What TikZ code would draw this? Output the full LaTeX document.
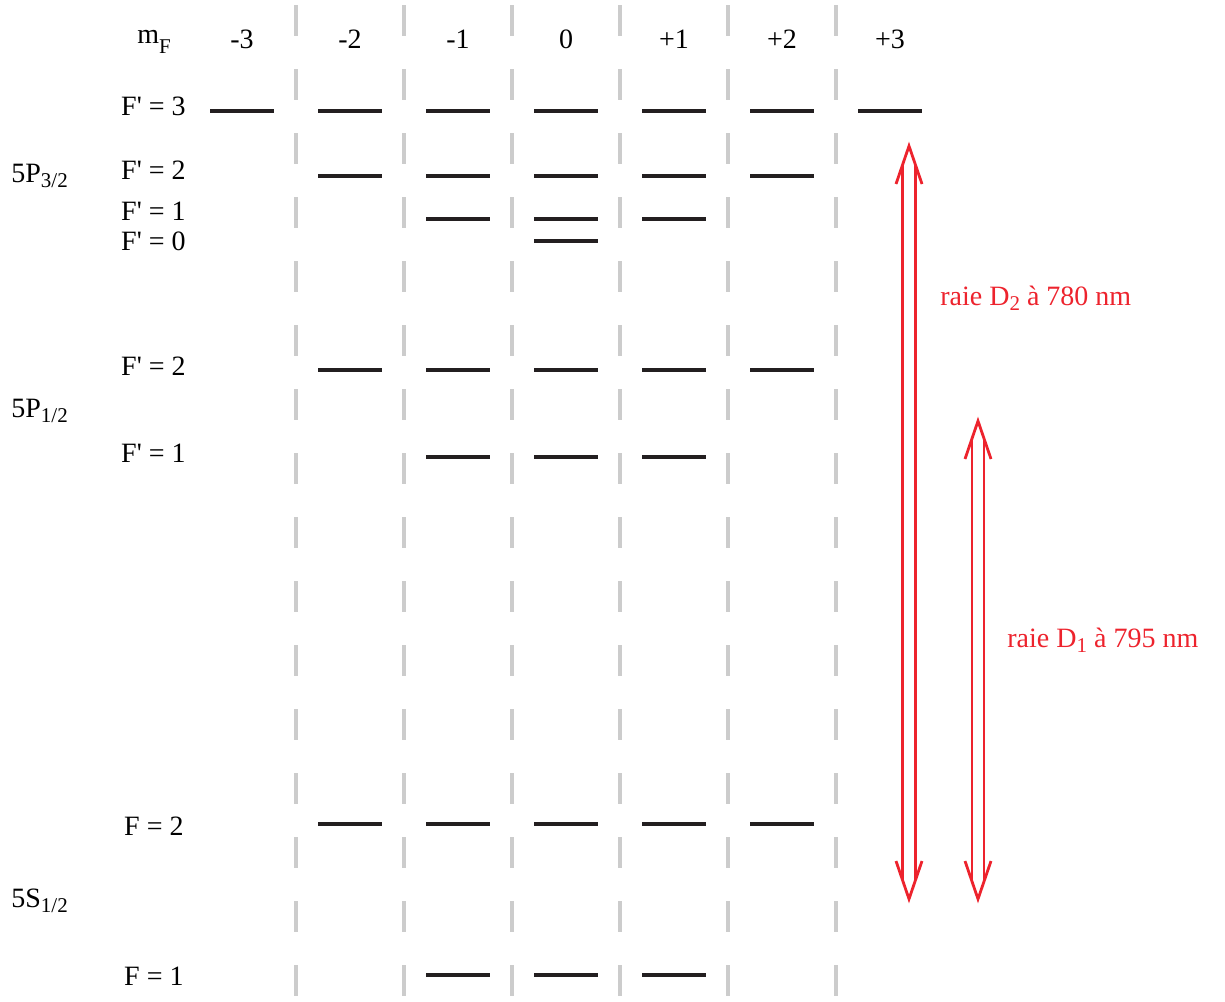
\documentclass[tikz,border=0pt]{standalone}
\usepackage{fontspec}
\setmainfont{Liberation Serif}
\usepackage{tikz}
\usetikzlibrary{calc}
\definecolor{raiered}{RGB}{237, 35, 45}
\definecolor{guidegray}{RGB}{204, 204, 204}
\definecolor{levelblack}{RGB}{35, 31, 32}
\tikzset{level/.style = {levelblack, line width = 1.6pt}}
\tikzset{guide/.style = {guidegray, line width = 1.6pt,
                         dash pattern = on 15.5pt off 16.5pt}}
\tikzset{lab/.style = {inner sep = 0, font = \fontsize{14}{16}\selectfont}}
\tikzset{raie/.style = {raiered, line width = 1.4pt, line join = miter}}
\newcommand{\sub}[2][2.5pt]{\raisebox{-#1}{\fontsize{10.5}{10.5}\selectfont #2}}
\newcommand{\Fp}{F\textquotesingle{} = }
% double arrow between two coordinates, #3 = half gap
\newcommand{\raiearrow}[3]{%
  \draw [raie] ([shift={(-#3, 19)}]#1) -- ([shift={(-#3, -19)}]#2);
  \draw [raie] ([shift={(#3, 19)}]#1) -- ([shift={(#3, -19)}]#2);
  \draw [raie] ([shift={(-13, 38)}]#1) -- (#1) -- ([shift={(13, 38)}]#1);
  \draw [raie] ([shift={(-13, -38)}]#2) -- (#2) -- ([shift={(13, -38)}]#2);
}

\begin{document}
\begin{tikzpicture}[x = 0.5pt, y = -0.5pt]
    \useasboundingbox (0, 0) rectangle (1225, 1001);
    \foreach \i in {0, ..., 5} {
      \draw [guide] ({296 + 108*\i}, 5) -- ({296 + 108*\i}, 997);
    }

    \node [lab, anchor = base west] (mf) at (137, 43) {m\sub[5pt]{F}};
    \foreach \m/\t in {-3/-3, -2/-2, -1/-1, 0/0, 1/+1, 2/+2, 3/+3} {
      \node [lab, anchor = base] (mf\m) at ({566 + 108*\m}, 48) {\t};
    }

    \foreach \y/\lo/\hi in {111/-3/3, 176/-2/2, 219/-1/1, 241/0/0,
                            370/-2/2, 457/-1/1, 824/-2/2, 975/-1/1} {
      \foreach \m in {\lo, ..., \hi} {
        \draw [level] ({534 + 108*\m}, \y) -- ++(64, 0);
      }
    }

    \node [lab, anchor = base east] (p3f3) at (186, 115) {\Fp 3};
    \node [lab, anchor = base east] (p3f2) at (186, 179) {\Fp 2};
    \node [lab, anchor = base east] (p3f1) at (186, 220) {\Fp 1};
    \node [lab, anchor = base east] (p3f0) at (186, 250) {\Fp 0};
    \node [lab, anchor = base east] (p1f2) at (186, 375) {\Fp 2};
    \node [lab, anchor = base east] (p1f1) at (186, 462) {\Fp 1};
    \node [lab, anchor = base east] (s1f2) at (184, 835) {F = 2};
    \node [lab, anchor = base east] (s1f1) at (184, 985) {F = 1};

    \node [lab, anchor = base west] (p32) at (11, 182) {5P\sub{3/2}};
    \node [lab, anchor = base west] (p12) at (11, 417) {5P\sub{1/2}};
    \node [lab, anchor = base west] (s12) at (11, 907) {5S\sub{1/2}};

    \coordinate (d2top) at (909, 146);
    \coordinate (d2bot) at (909, 899);
    \coordinate (d1top) at (978, 421);
    \coordinate (d1bot) at (978, 899);
    \raiearrow{d2top}{d2bot}{6.5}
    \raiearrow{d1top}{d1bot}{6}
    \node [lab, raiered, anchor = base west] (d2lab) at (940, 305) {raie D\sub{2} à 780 nm};
    \node [lab, raiered, anchor = base west] (d1lab) at (1007, 647) {raie D\sub{1} à 795 nm};
  \end{tikzpicture}
\end{document}
